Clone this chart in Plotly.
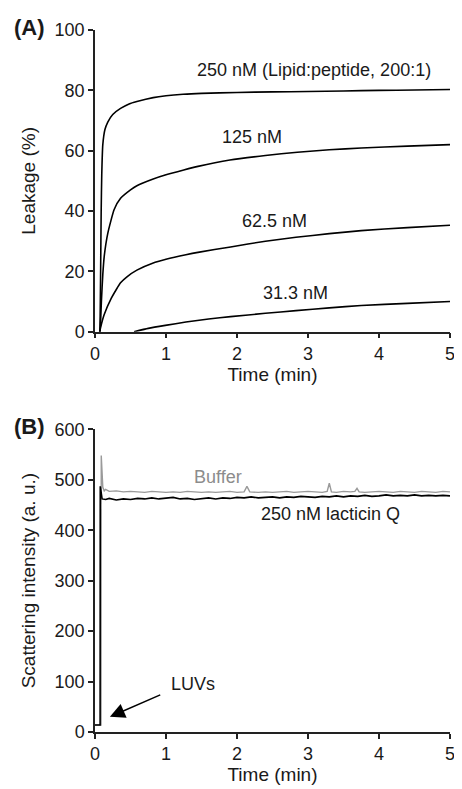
import plotly.graph_objects as go

# ---------------- Panel A data (leakage %) ----------------
t_250 = [0.07, 0.075, 0.08, 0.087, 0.095, 0.11, 0.14, 0.18, 0.25, 0.36, 0.48, 0.59, 0.82, 1.0, 1.24, 1.5, 2.0, 2.5, 3.0, 3.5, 4.0, 4.5, 5.0]
y_250 = [0, 10, 22, 40, 52, 62, 67, 69.5, 72, 74, 75.5, 76.3, 77.6, 78.2, 78.7, 79.0, 79.3, 79.5, 79.6, 79.8, 80.0, 80.1, 80.3]

t_125 = [0.07, 0.08, 0.09, 0.11, 0.13, 0.18, 0.27, 0.36, 0.5, 0.59, 0.82, 1.0, 1.25, 1.45, 1.9, 2.4, 2.85, 3.3, 3.75, 4.4, 5.0]
y_125 = [0, 4, 10, 19, 25, 32.6, 40.5, 44.2, 47, 48.4, 50.6, 52.0, 53.6, 54.8, 56.9, 58.4, 59.5, 60.3, 60.9, 61.5, 62]

t_625 = [0.065, 0.09, 0.13, 0.23, 0.30, 0.36, 0.45, 0.59, 0.82, 1.0, 1.28, 1.45, 1.91, 2.4, 2.83, 3.3, 3.75, 4.4, 5.0]
y_625 = [0, 2.5, 5.7, 11.1, 14.0, 16.2, 18.2, 20.4, 22.8, 24.0, 25.5, 26.3, 28.1, 30.0, 31.3, 32.5, 33.5, 34.5, 35.3]

t_313 = [0.55, 0.75, 0.99, 1.28, 1.6, 1.91, 2.4, 2.83, 3.3, 3.75, 4.4, 5.0]
y_313 = [0, 1.1, 2.1, 3.2, 4.2, 5.0, 6.1, 7.0, 7.9, 8.7, 9.4, 10.0]

# ---------------- Panel B data (scattering intensity) ----------------
t_lac = [0.0, 0.072, 0.074, 0.085, 0.1, 0.15, 0.2, 0.3, 0.4, 0.5, 0.6, 0.7, 0.8, 0.9, 1.0,
         1.1, 1.2, 1.3, 1.4, 1.5, 1.6, 1.7, 1.8, 1.9, 2.0, 2.1, 2.2, 2.3, 2.4, 2.5,
         2.6, 2.7, 2.8, 2.9, 3.0, 3.1, 3.2, 3.3, 3.4, 3.5, 3.6, 3.7, 3.8, 3.9, 4.0,
         4.1, 4.2, 4.3, 4.4, 4.5, 4.6, 4.7, 4.8, 4.9, 5.0]
y_lac = [14, 14, 487, 470, 462, 461, 463, 460, 462, 461, 463, 462, 464, 462, 463,
         465, 462, 463, 461, 463, 464, 462, 464, 463, 465, 464, 466, 464, 465, 466,
         464, 466, 465, 467, 466, 465, 467, 466, 468, 466, 468, 467, 469, 467, 468,
         470, 468, 469, 468, 470, 468, 469, 468, 469, 468]

t_buf = [0.0, 0.085, 0.088, 0.1, 0.11, 0.13, 0.15, 0.2, 0.3, 0.4, 0.5, 0.6, 0.7, 0.8, 0.9, 1.0,
         1.1, 1.2, 1.3, 1.4, 1.5, 1.6, 1.7, 1.8, 1.9, 2.0, 2.1, 2.14, 2.18, 2.3, 2.4, 2.5,
         2.6, 2.7, 2.8, 2.9, 3.0, 3.1, 3.2, 3.27, 3.3, 3.33, 3.4, 3.5, 3.6, 3.66, 3.69, 3.72, 3.8, 3.9, 4.0,
         4.1, 4.2, 4.3, 4.4, 4.5, 4.6, 4.7, 4.8, 4.9, 5.0]
y_buf = [14, 14, 548, 500, 485, 478, 481, 477, 478, 476, 477, 476, 475, 477, 476, 475,
         476, 475, 477, 476, 475, 476, 475, 476, 477, 475, 476, 487, 476, 475, 476, 475,
         476, 477, 475, 476, 477, 476, 475, 477, 493, 476, 475, 477, 476, 477, 483, 476, 475, 476, 477,
         476, 475, 477, 476, 475, 477, 476, 475, 477, 476]

x_ticks = [0, 1, 2, 3, 4, 5]
yA_ticks = [0, 20, 40, 60, 80, 100]
yB_ticks = [0, 100, 200, 300, 400, 500, 600]

FONT = "Liberation Sans, Arial, sans-serif"
TXT = "#1a1a1a"
AX = "#222222"

fig = go.Figure()
line_k = dict(color="black", width=1.6, shape="spline", smoothing=0.5)
for tx, ty in [(t_250, y_250), (t_125, y_125), (t_625, y_625), (t_313, y_313)]:
    fig.add_trace(go.Scatter(x=tx, y=ty, mode="lines", line=line_k, xaxis="x", yaxis="y", showlegend=False))

fig.add_trace(go.Scatter(x=t_buf, y=y_buf, mode="lines", line=dict(color="#9a9a9a", width=1.4),
                         xaxis="x2", yaxis="y2", showlegend=False))
fig.add_trace(go.Scatter(x=t_lac, y=y_lac, mode="lines", line=dict(color="black", width=1.6),
                         xaxis="x2", yaxis="y2", showlegend=False))

axis_common = dict(showgrid=False, zeroline=False, showline=True, linecolor=AX, linewidth=1.5,
                   ticks="outside", ticklen=5, tickwidth=1.5, tickcolor=AX,
                   tickfont=dict(family=FONT, size=18, color=TXT))
title_font = dict(size=19, family=FONT, color=TXT)

# page has an 8px body margin; figure is sized/margined so the plot area lands where the reference has it
W, H = 454, 781
ML, MR, MT, MB = 87, 7, 22, 54

fig.update_layout(
    width=W, height=H,
    margin=dict(l=ML, r=MR, t=MT, b=MB),
    plot_bgcolor="white", paper_bgcolor="white",
    font=dict(family=FONT, color=TXT),
    xaxis=dict(domain=[0, 1], anchor="y", range=[0, 5], tickvals=x_ticks,
               title=dict(text="Time (min)", font=title_font, standoff=2),
               **axis_common),
    yaxis=dict(domain=[0.5702, 1.0], anchor="x", range=[0, 100], tickvals=yA_ticks,
               title=dict(text="Leakage (%)", font=title_font, standoff=14),
               **axis_common),
    xaxis2=dict(domain=[0, 1], anchor="y2", range=[0, 5], tickvals=x_ticks,
                title=dict(text="Time (min)", font=title_font, standoff=4),
                **axis_common),
    yaxis2=dict(domain=[0, 0.4312], anchor="x2", range=[0, 600], tickvals=yB_ticks,
                title=dict(text="Scattering intensity (a. u.)", font=title_font, standoff=14),
                **axis_common),
)

ann_font = dict(family=FONT, size=18, color=TXT)
annotations = [
    dict(text="250 nM (Lipid:peptide, 200:1)", x=3.08, y=86.7, xref="x", yref="y", showarrow=False, font=ann_font),
    dict(text="125 nM", x=2.21, y=64.6, xref="x", yref="y", showarrow=False, font=ann_font),
    dict(text="62.5 nM", x=2.53, y=36.6, xref="x", yref="y", showarrow=False, font=ann_font),
    dict(text="31.3 nM", x=2.83, y=12.9, xref="x", yref="y", showarrow=False, font=ann_font),
    dict(text="Buffer", x=1.73, y=505, xref="x2", yref="y2", showarrow=False,
         font=dict(family=FONT, size=18, color="#8c8c8c")),
    dict(text="250 nM lacticin Q", x=3.31, y=432, xref="x2", yref="y2", showarrow=False, font=ann_font),
    dict(text="LUVs", x=1.38, y=95, xref="x2", yref="y2", showarrow=False, font=ann_font),
    dict(text="", x=0.21, y=30, xref="x2", yref="y2", ax=0.94, ay=75, axref="x2", ayref="y2",
         showarrow=True, arrowhead=2, arrowsize=2, arrowwidth=1.5, arrowcolor="black"),
    dict(text="<b>(A)</b>", x=11, y=27, xref="paper", yref="paper", showarrow=False,
         font=dict(family=FONT, size=22, color=TXT), xanchor="left", yanchor="middle"),
    dict(text="<b>(B)</b>", x=11, y=428, xref="paper", yref="paper", showarrow=False,
         font=dict(family=FONT, size=22, color=TXT), xanchor="left", yanchor="middle"),
]
# panel-label positions are given in page pixels; convert to paper coordinates
plot_left, plot_right, plot_top, plot_bottom = 95, 455, 30, 735
for a in annotations:
    if a["xref"] == "paper":
        a["x"] = (a["x"] - plot_left) / (plot_right - plot_left)
        a["y"] = (plot_bottom - a["y"]) / (plot_bottom - plot_top)
fig.update_layout(annotations=annotations)

fig.write_html("out.html")
